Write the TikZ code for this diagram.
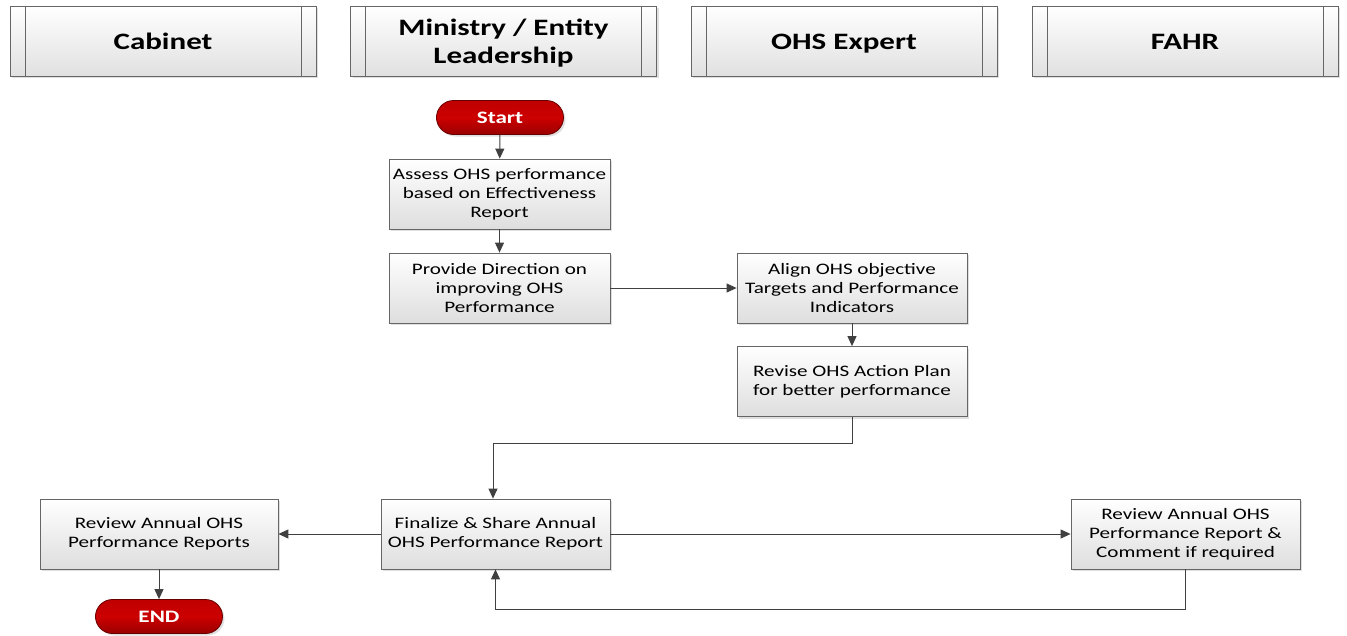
\documentclass[tikz,border=0pt]{standalone}
\usepackage{fontspec}
\setmainfont{Carlito}[FakeStretch=1.32]
\usetikzlibrary{arrows.meta,shadows,calc}
\begin{document}
\begin{tikzpicture}[x=1pt,y=-1pt,
  lane/.style={draw=black!60,line width=0.8pt,top color=white,bottom color=black!12,
    minimum width=306pt,minimum height=70pt,inner sep=0pt,
    font=\fontsize{23.5}{28}\selectfont\bfseries,align=center,
    text height=17pt,text depth=0pt,
    drop shadow={shadow xshift=2pt,shadow yshift=-2pt,opacity=0.25}},
  proc/.style={draw=black!60,line width=0.8pt,top color=white,bottom color=black!13,
    minimum height=70pt,inner sep=0pt,
    font=\fontsize{16}{19}\selectfont,align=center,
    drop shadow={shadow xshift=2pt,shadow yshift=-2pt,opacity=0.25}},
  term/.style={draw=red!40!black,line width=0.8pt,rounded corners=17pt,
    top color=red!75!black,bottom color=red!60!black,middle color=red!80!black,
    minimum width=127pt,minimum height=34pt,inner sep=0pt,text=white,
    font=\fontsize{17.5}{19}\selectfont\bfseries,
    drop shadow={shadow xshift=2pt,shadow yshift=-2pt,opacity=0.25}},
  conn/.style={draw=black!75,line width=1pt,-{Triangle[length=10pt,width=9pt]}}
]
\useasboundingbox (0,0) rectangle (1347,635);
% lanes
\node[lane] (cab) at (163,41) {Cabinet};
\node[lane,text height=44pt] (min) at (503.5,41) {Ministry / Entity\\Leadership};
\node[lane] (ohs) at (844,41) {OHS Expert};
\node[lane] (fahr) at (1185,41) {FAHR};
\foreach \n in {cab,min,ohs,fahr}{
  \draw[black!60,line width=0.8pt] ($(\n.north west)+(15.5,0)$) -- ($(\n.south west)+(15.5,0)$);
  \draw[black!60,line width=0.8pt] ($(\n.north east)+(-15.5,0)$) -- ($(\n.south east)+(-15.5,0)$);
}
% nodes
\node[term] (start) at (500,117.5) {Start};
\node[proc,minimum width=221pt] (assess) at (499.5,194) {Assess OHS performance\\based on Effectiveness\\Report};
\node[proc,minimum width=221pt] (provide) at (499.5,288) {Provide Direction on\\improving OHS\\Performance};
\node[proc,minimum width=230pt] (align) at (852,288) {Align OHS objective\\Targets and Performance\\Indicators};
\node[proc,minimum width=230pt] (revise) at (852,381.5) {Revise OHS Action Plan\\for better performance};
\node[proc,minimum width=229pt] (final) at (495.5,534) {Finalize \& Share Annual\\OHS Performance Report};
\node[proc,minimum width=238pt] (review) at (159,534) {Review Annual OHS\\Performance Reports};
\node[proc,minimum width=229pt] (fcomm) at (1185.5,534) {Review Annual OHS\\Performance Report \&\\Comment if required};
\node[term] (end) at (159,616.5) {END};
% connectors
\draw[conn] (start) -- (assess);
\draw[conn] (assess) -- (provide);
\draw[conn] (provide) -- (align);
\draw[conn] (align) -- (revise);
\coordinate (r1) at (852,443);
\coordinate (r2) at (493,443);
\draw[conn] (revise.south) -- (r1) -- (r2) -- (r2 |- final.north);
\draw[conn] (final) -- (review);
\draw[conn] (final) -- (fcomm);
\draw[conn] (review) -- (end);
\coordinate (b1) at (1185.5,609);
\coordinate (b2) at (495.5,609);
\draw[conn] (fcomm.south) -- (b1) -- (b2) -- (final.south);
\end{tikzpicture}
\end{document}
